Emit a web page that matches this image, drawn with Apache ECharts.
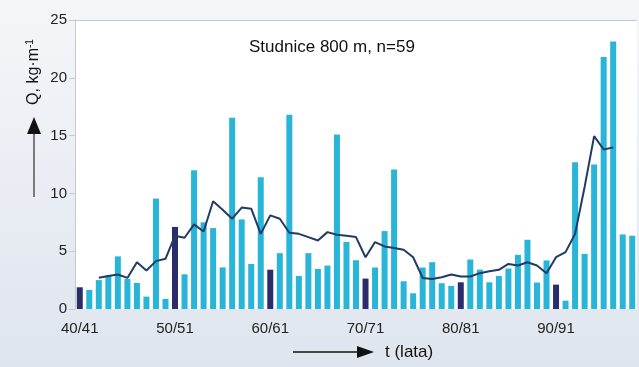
<!DOCTYPE html>
<html>
<head>
<meta charset="utf-8">
<script src="https://cdn.jsdelivr.net/npm/echarts@6/dist/echarts.min.js"></script>
<style>html,body{margin:0;padding:0;}#c{width:639px;height:367px;}</style>
</head>
<body>
<div id="c"></div>
<script>
const categories = ['40/41','41/42','42/43','43/44','44/45','45/46','46/47','47/48','48/49','49/50',
  '50/51','51/52','52/53','53/54','54/55','55/56','56/57','57/58','58/59','59/60',
  '60/61','61/62','62/63','63/64','64/65','65/66','66/67','67/68','68/69','69/70',
  '70/71','71/72','72/73','73/74','74/75','75/76','76/77','77/78','78/79','79/80',
  '80/81','81/82','82/83','83/84','84/85','85/86','86/87','87/88','88/89','89/90',
  '90/91','91/92','92/93','93/94','94/95','95/96','96/97','97/98','98/99'];
const tickLabels = ['40/41','50/51','60/61','70/71','80/81','90/91'];
const annualQ = [1.88,1.65,2.5,2.9,4.55,2.6,2.25,1.07,9.55,0.87,
  7.1,3.0,12.0,7.5,7.0,3.6,16.55,7.75,3.9,11.4,
  3.4,4.83,16.8,2.86,4.83,3.47,3.76,15.1,5.8,4.22,
  2.63,3.59,6.74,12.07,2.4,1.36,3.59,4.05,2.23,2.0,
  2.31,4.28,3.41,2.31,2.86,3.5,4.69,5.99,2.29,4.2,
  2.11,0.72,12.7,4.77,12.5,21.8,23.15,6.45,6.34];
const movingAvg = ['-','-',2.7,2.86,2.98,2.69,4.05,3.33,4.14,4.34,
  6.34,6.16,7.32,6.71,9.32,8.59,7.81,8.77,8.68,6.5,
  8.1,7.81,6.6,6.5,6.22,5.93,6.65,6.42,6.34,6.22,
  4.48,5.79,5.41,5.27,5.12,4.48,2.69,2.6,2.75,2.98,
  2.81,2.81,3.1,3.27,3.39,3.9,3.76,4.05,3.76,3.1,
  4.48,4.92,6.5,10.56,14.96,13.8,13.98,'-','-'];
const yTicks = [0,5,10,15,20,25];

const FONT = "'Liberation Sans', Arial, sans-serif";
const chart = echarts.init(document.getElementById('c'), null, {renderer:'canvas'});
chart.setOption({
  animation:false,
  backgroundColor:{type:'linear',x:0,y:0,x2:0,y2:1,colorStops:[{offset:0,color:'#f4f6f9'},{offset:1,color:'#dfe5ee'}]},
  title:{text:'Studnice 800 m, n=59',left:244,top:34,textStyle:{fontFamily:FONT,fontSize:17,fontWeight:'normal',color:'#111'}},
  grid:{left:75,right:2,top:20,bottom:58,show:true,backgroundColor:'#ffffff',borderWidth:0},
  xAxis:{type:'category',data:categories,
    axisLine:{show:false},axisTick:{show:false},
    axisLabel:{interval:(i,v)=>tickLabels.includes(v),fontFamily:FONT,fontSize:15,color:'#222',margin:12}},
  yAxis:{type:'value',min:yTicks[0],max:yTicks[yTicks.length-1],interval:5,
    axisLine:{show:true,lineStyle:{color:'#c4c8cf',width:1}},
    axisTick:{show:true,length:6,lineStyle:{color:'#c4c8cf'}},
    axisLabel:{fontFamily:FONT,fontSize:15,color:'#222',margin:8},
    splitLine:{show:true,lineStyle:{color:['rgba(0,0,0,0)','rgba(0,0,0,0)','rgba(0,0,0,0)','rgba(0,0,0,0)','rgba(0,0,0,0)','#c4c8cf'],width:1}}},
  series:[
    {type:'bar',data:annualQ,barWidth:6,
      itemStyle:{color:p=>tickLabels.includes(categories[p.dataIndex])?'#2b2c6c':'#29b5d8'}},
    {type:'line',data:movingAvg,symbol:'none',lineStyle:{color:'#1f3b66',width:2},connectNulls:false}
  ],
  graphic:[
    {type:'text',x:34,y:72,rotation:Math.PI/2,style:{text:'Q, kg·m{s|-1}',fontFamily:FONT,fontSize:16,fill:'#111',align:'center',verticalAlign:'middle',rich:{s:{fontSize:10,verticalAlign:'top',fontFamily:FONT,fill:'#111',padding:[0,0,8,0]}}}},
    {type:'line',shape:{x1:34,y1:197,x2:34,y2:130},style:{stroke:'#555',lineWidth:1.5}},
    {type:'polygon',shape:{points:[[34,117],[27,134],[41,134]]},style:{fill:'#111'}},
    {type:'line',shape:{x1:293,y1:352,x2:360,y2:352},style:{stroke:'#111',lineWidth:1.5}},
    {type:'polygon',shape:{points:[[374,352],[357,346],[357,358]]},style:{fill:'#111'}},
    {type:'text',x:385,y:352,style:{text:'t (lata)',fontFamily:FONT,fontSize:17,fill:'#111',align:'left',verticalAlign:'middle'}}
  ]
});
</script>
</body>
</html>
